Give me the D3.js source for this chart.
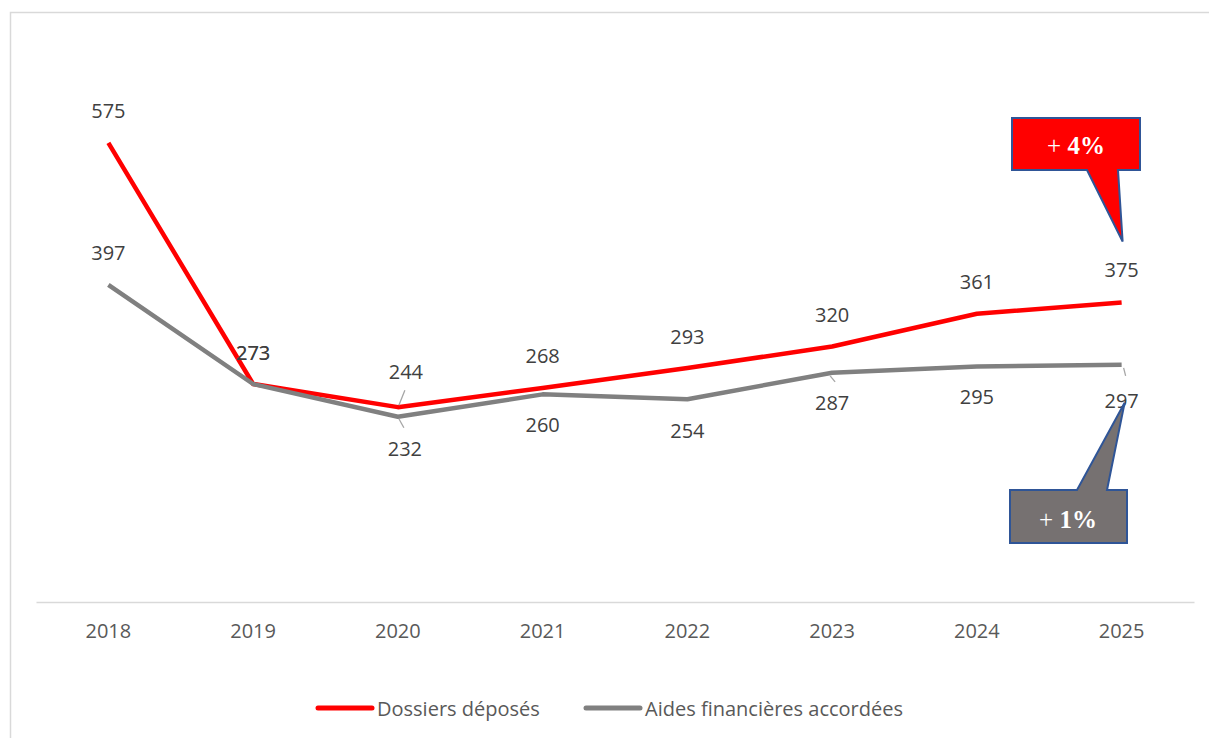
<!DOCTYPE html>
<html><head><meta charset="utf-8">
<script src="https://cdn.jsdelivr.net/npm/d3@7/dist/d3.min.js"></script>
<style>body{margin:0;background:#fff}svg{display:block}</style>
</head><body><svg id="c" width="1209" height="738"></svg>
<script>
const years = ["2018","2019","2020","2021","2022","2023","2024","2025"];
const dossiers = [575,273,244,268,293,320,361,375];
const aides = [397,273,232,260,254,287,295,297];
const seriesNames = ["Dossiers déposés","Aides financières accordées"];
const seriesColors = ["#ff0000","#808080"];
const callouts = ["4%","1%"];

const svg = d3.select("#c");
svg.append("rect").attr("x",10.5).attr("y",12.5).attr("width",1220).attr("height",760)
  .attr("fill","#fff").attr("stroke","#d9d9d9").attr("stroke-width",1.5);

const x = d3.scaleBand().domain(years).range([36,1194]);
const y = d3.scaleLinear().domain([0,700]).range([602,43]);
const cx = d => x(d)+x.bandwidth()/2;
const font = "'Open Sans', 'Noto Sans', sans-serif";

// axis
const ax = svg.append("g").attr("transform","translate(0,602)").call(d3.axisBottom(x).tickSize(0).tickPadding(22));
ax.select(".domain").attr("stroke","#d9d9d9").attr("stroke-width",1.5);
ax.selectAll("text").attr("font-family",font).attr("font-size",20).attr("fill","#595959");

const line = d3.line().x((d,i)=>cx(years[i])).y(d=>y(d));
[dossiers,aides].forEach((s,k)=>{
  svg.append("path").datum(s).attr("d",line).attr("fill","none")
    .attr("stroke",seriesColors[k]).attr("stroke-width",4.5).attr("stroke-linejoin","round");
});

// labels
function lab(xp,yp,t){
  svg.append("text").attr("x",xp).attr("y",yp).attr("text-anchor","middle").attr("dominant-baseline","central")
    .attr("font-family",font).attr("font-size",20).attr("fill","#404040").text(t);
}
function leader(x1,y1,x2,y2){
  svg.append("line").attr("x1",x1).attr("y1",y1).attr("x2",x2).attr("y2",y2).attr("stroke","#a6a6a6").attr("stroke-width",1.3);
}
const redOff = [-32,-31,-36,-32,-32,-32,-32,-33];
const grayOff = [-32,-31,32,30,31,30,30,36];
const redDx = [0,0,8,0,0,0,0,0];
const grayDx = [0,0,7,0,0,0,0,0];
dossiers.forEach((v,i)=>lab(cx(years[i])+redDx[i], y(v)+redOff[i], v));
aides.forEach((v,i)=>lab(cx(years[i])+grayDx[i], y(v)+grayOff[i], v));
// leader lines
leader(cx("2020")+7,y(244)-17,cx("2020")+1,y(244)-2);
leader(cx("2020")+1,y(232)+2,cx("2020")+6,y(232)+11);
leader(cx("2023")-2,y(287)+3,cx("2023")+3,y(287)+9);
leader(cx("2025")+2,y(297)+3,cx("2025")+4,y(297)+11);

// callouts
function callout(pts,fill,t,tx,ty){
  svg.append("path").attr("d","M"+pts.map(p=>p.join(",")).join("L")+"Z")
    .attr("fill",fill).attr("stroke","#2f5597").attr("stroke-width",2).attr("stroke-linejoin","miter");
  const tt = svg.append("text").attr("x",tx).attr("y",ty).attr("text-anchor","middle").attr("dominant-baseline","central")
    .attr("font-family","'Liberation Serif', serif").attr("fill","#fff");
  tt.append("tspan").attr("font-size",25).text("+ ");
  tt.append("tspan").attr("font-size",25).attr("font-weight","bold").text(t);
}
const x25 = cx("2025");
callout([[1012,118],[1140,118],[1140,170],[1118,170],[x25+1,y(375)-61],[1087,170],[1012,170]],"#ff0000",callouts[0],1076,145);
callout([[1010,490],[1077,490],[x25+3,y(297)+38],[1107,490],[1127,490],[1127,543],[1010,543]],"#767171",callouts[1],1068,519);

// legend
const leg = [[318,377],[586,645]];
leg.forEach((p,k)=>{
  svg.append("line").attr("x1",p[0]).attr("x2",p[0]+54).attr("y1",708).attr("y2",708)
    .attr("stroke",seriesColors[k]).attr("stroke-width",5).attr("stroke-linecap","round");
  svg.append("text").attr("x",p[1]).attr("y",708).attr("dominant-baseline","central")
    .attr("font-family",font).attr("font-size",20).attr("fill","#595959").text(seriesNames[k]);
});
</script></body></html>
